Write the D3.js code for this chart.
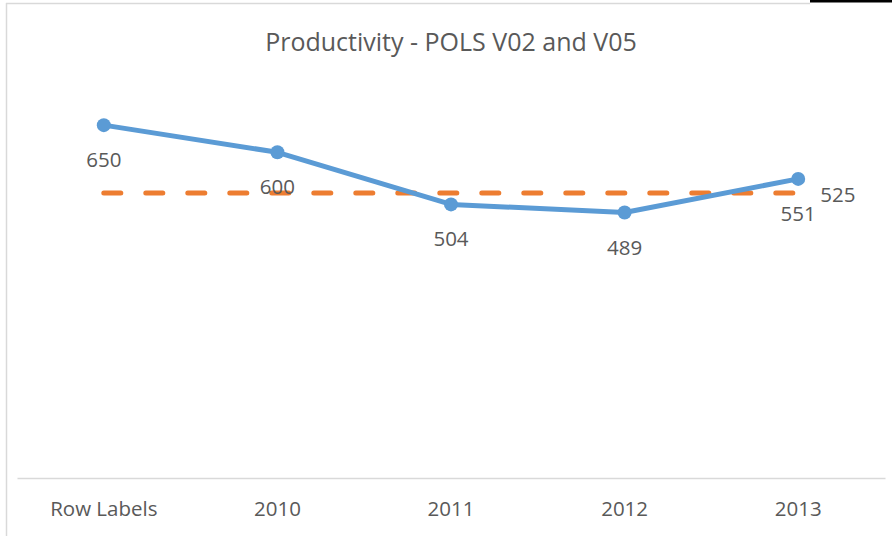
<!DOCTYPE html>
<html>
<head>
<meta charset="utf-8">
<script src="https://cdn.jsdelivr.net/npm/d3@7"></script>
<style>
  body { margin: 0; background: #fff; }
  text { font-family: "Open Sans", "Noto Sans", sans-serif; fill: #595959; }
</style>
</head>
<body>
<div id="chart"></div>
<script>
const categories = ["Row Labels", "2010", "2011", "2012", "2013"]
const seriesV02 = [650, 600, 504, 489, 551]
const seriesV05 = [525, 525, 525, 525, 525]
const titleText = "Productivity - POLS V02 and V05"

const width = 892, height = 536
const margin = { top: 98, right: 7, bottom: 58, left: 17 }
const innerW = width - margin.left - margin.right
const innerH = height - margin.top - margin.bottom

const svg = d3.select("#chart")
    .append("svg")
    .attr("width", width)
    .attr("height", height)

// chart border (cropped screenshot: only left and top visible)
svg.append("line")
    .attr("x1", 6.5).attr("x2", 6.5)
    .attr("y1", 3).attr("y2", height)
    .attr("stroke", "#d9d9d9").attr("stroke-width", 1.5)
svg.append("line")
    .attr("x1", 6).attr("x2", 810)
    .attr("y1", 3.5).attr("y2", 3.5)
    .attr("stroke", "#d9d9d9").attr("stroke-width", 1.5)
svg.append("rect")
    .attr("x", 810).attr("y", 0)
    .attr("width", width - 810).attr("height", 2.5)
    .attr("fill", "#000")

svg.append("text")
    .attr("x", 451)
    .attr("y", 51)
    .attr("text-anchor", "middle")
    .attr("font-size", 25)
    .text(titleText)

const g = svg.append("g")
    .attr("transform", "translate(" + margin.left + "," + margin.top + ")")

const x = d3.scaleBand()
    .domain(categories)
    .range([0, innerW])

const y = d3.scaleLinear()
    .domain([0, 700])
    .range([innerH, 0])

const cx = d => x(d) + x.bandwidth() / 2

const xAxis = g.append("g")
    .attr("transform", "translate(0," + innerH + ")")
    .call(d3.axisBottom(x).tickSize(0).tickPadding(23))
xAxis.select(".domain").attr("stroke", "#d9d9d9").attr("stroke-width", 1.5)
xAxis.selectAll("text")
    .attr("font-size", 20.5)
    .attr("fill", "#595959")
    .style("font-family", '"Open Sans", "Noto Sans", sans-serif')

// V05 dashed line
const line = d3.line()
    .x((d, i) => cx(categories[i]))
    .y(d => y(d))

g.append("path")
    .datum(seriesV05)
    .attr("d", line)
    .attr("fill", "none")
    .attr("stroke", "#ED7D31")
    .attr("stroke-width", 5)
    .attr("stroke-linecap", "round")
    .attr("stroke-dasharray", "17 25")

// V02 solid line with markers
g.append("path")
    .datum(seriesV02)
    .attr("d", line)
    .attr("fill", "none")
    .attr("stroke", "#5B9BD5")
    .attr("stroke-width", 5)
    .attr("stroke-linejoin", "round")

g.selectAll(".marker")
    .data(seriesV02)
    .enter().append("circle")
    .attr("class", "marker")
    .attr("cx", (d, i) => cx(categories[i]))
    .attr("cy", d => y(d))
    .attr("r", 7)
    .attr("fill", "#5B9BD5")

g.selectAll(".v02label")
    .data(seriesV02)
    .enter().append("text")
    .attr("class", "v02label")
    .attr("x", (d, i) => cx(categories[i]))
    .attr("y", d => y(d) + 42)
    .attr("text-anchor", "middle")
    .attr("font-size", 20.5)
    .text(d => d)

// V05 label only at the last point
const last = seriesV05.length - 1
g.append("text")
    .attr("x", cx(categories[last]) + 22)
    .attr("y", y(seriesV05[last]) + 9)
    .attr("font-size", 20.5)
    .text(seriesV05[last])
</script>
</body>
</html>
